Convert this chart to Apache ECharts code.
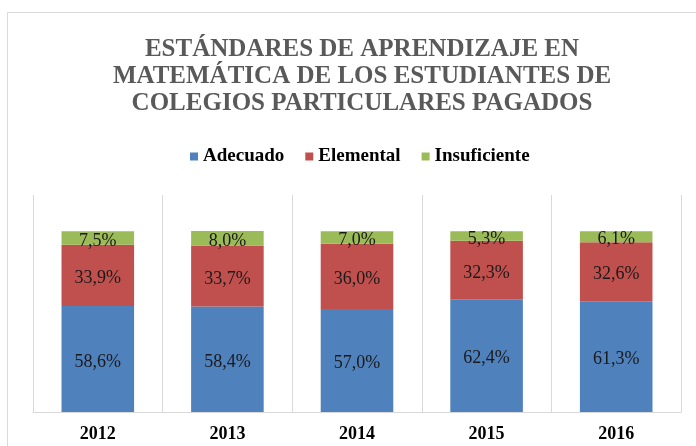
<!DOCTYPE html>
<html>
<head>
<meta charset="utf-8">
<script src="https://cdn.jsdelivr.net/npm/echarts@6/dist/echarts.min.js"></script>
<style>
  html, body { margin: 0; padding: 0; background: #fff; }
  #chart { width: 696px; height: 446px; }
</style>
</head>
<body>
<div id="chart"></div>
<script>
const years = ["2012", "2013", "2014", "2015", "2016"];
const adecuado = [58.6, 58.4, 57.0, 62.4, 61.3];
const elemental = [33.9, 33.7, 36.0, 32.3, 32.6];
const insuficiente = [7.5, 8.0, 7.0, 5.3, 6.1];

const serif = "'Liberation Serif', 'DejaVu Serif', serif";

const chart = echarts.init(document.getElementById("chart"));

const labelStyle = {
  show: true,
  position: "inside",
  offset: [0, 3],
  fontFamily: serif,
  fontSize: 18,
  color: "#1a1a1a",
  formatter: (p) => p.value.toFixed(1).replace(".", ",") + "%",
};

const makeSeries = (name, data, color) => ({
  name: name,
  type: "bar",
  stack: "total",
  barWidth: "56%",
  data: data,
  itemStyle: { color: color },
  label: labelStyle,
});

const option = {
  animation: false,
  graphic: [
    {
      type: "rect",
      shape: { x: 7.5, y: 12.5, width: 800, height: 600 },
      style: { fill: "none", stroke: "#d9d9d9", lineWidth: 1 },
      silent: true,
    },
  ],
  title: {
    text: "ESTÁNDARES DE APRENDIZAJE EN\nMATEMÁTICA DE LOS ESTUDIANTES DE\nCOLEGIOS PARTICULARES PAGADOS",
    left: 357,
    textAlign: "center",
    top: 31,
    textStyle: {
      fontFamily: serif,
      fontWeight: "bold",
      fontSize: 25,
      lineHeight: 27,
      color: "#595959",
    },
  },
  legend: {
    top: 142,
    left: 185,
    icon: "rect",
    itemWidth: 8,
    itemHeight: 8,
    itemGap: 21,
    textStyle: {
      fontFamily: serif,
      fontWeight: "bold",
      fontSize: 19,
      color: "#000",
    },
    data: ["Adecuado", "Elemental", "Insuficiente"],
  },
  grid: { left: 33, right: 15, top: 195, bottom: 34 },
  xAxis: {
    type: "category",
    data: years,
    axisTick: { show: false },
    axisLine: { lineStyle: { color: "#d9d9d9" } },
    splitLine: { show: true, lineStyle: { color: "#d9d9d9" } },
    axisLabel: {
      margin: 13,
      fontFamily: serif,
      fontWeight: "bold",
      fontSize: 18,
      color: "#000",
    },
  },
  yAxis: {
    type: "value",
    min: 0,
    max: 120,
    show: false,
  },
  series: [
    makeSeries("Adecuado", adecuado, "#4f81bd"),
    makeSeries("Elemental", elemental, "#c0504d"),
    makeSeries("Insuficiente", insuficiente, "#9bbb59"),
  ],
};

chart.setOption(option);
</script>
</body>
</html>
